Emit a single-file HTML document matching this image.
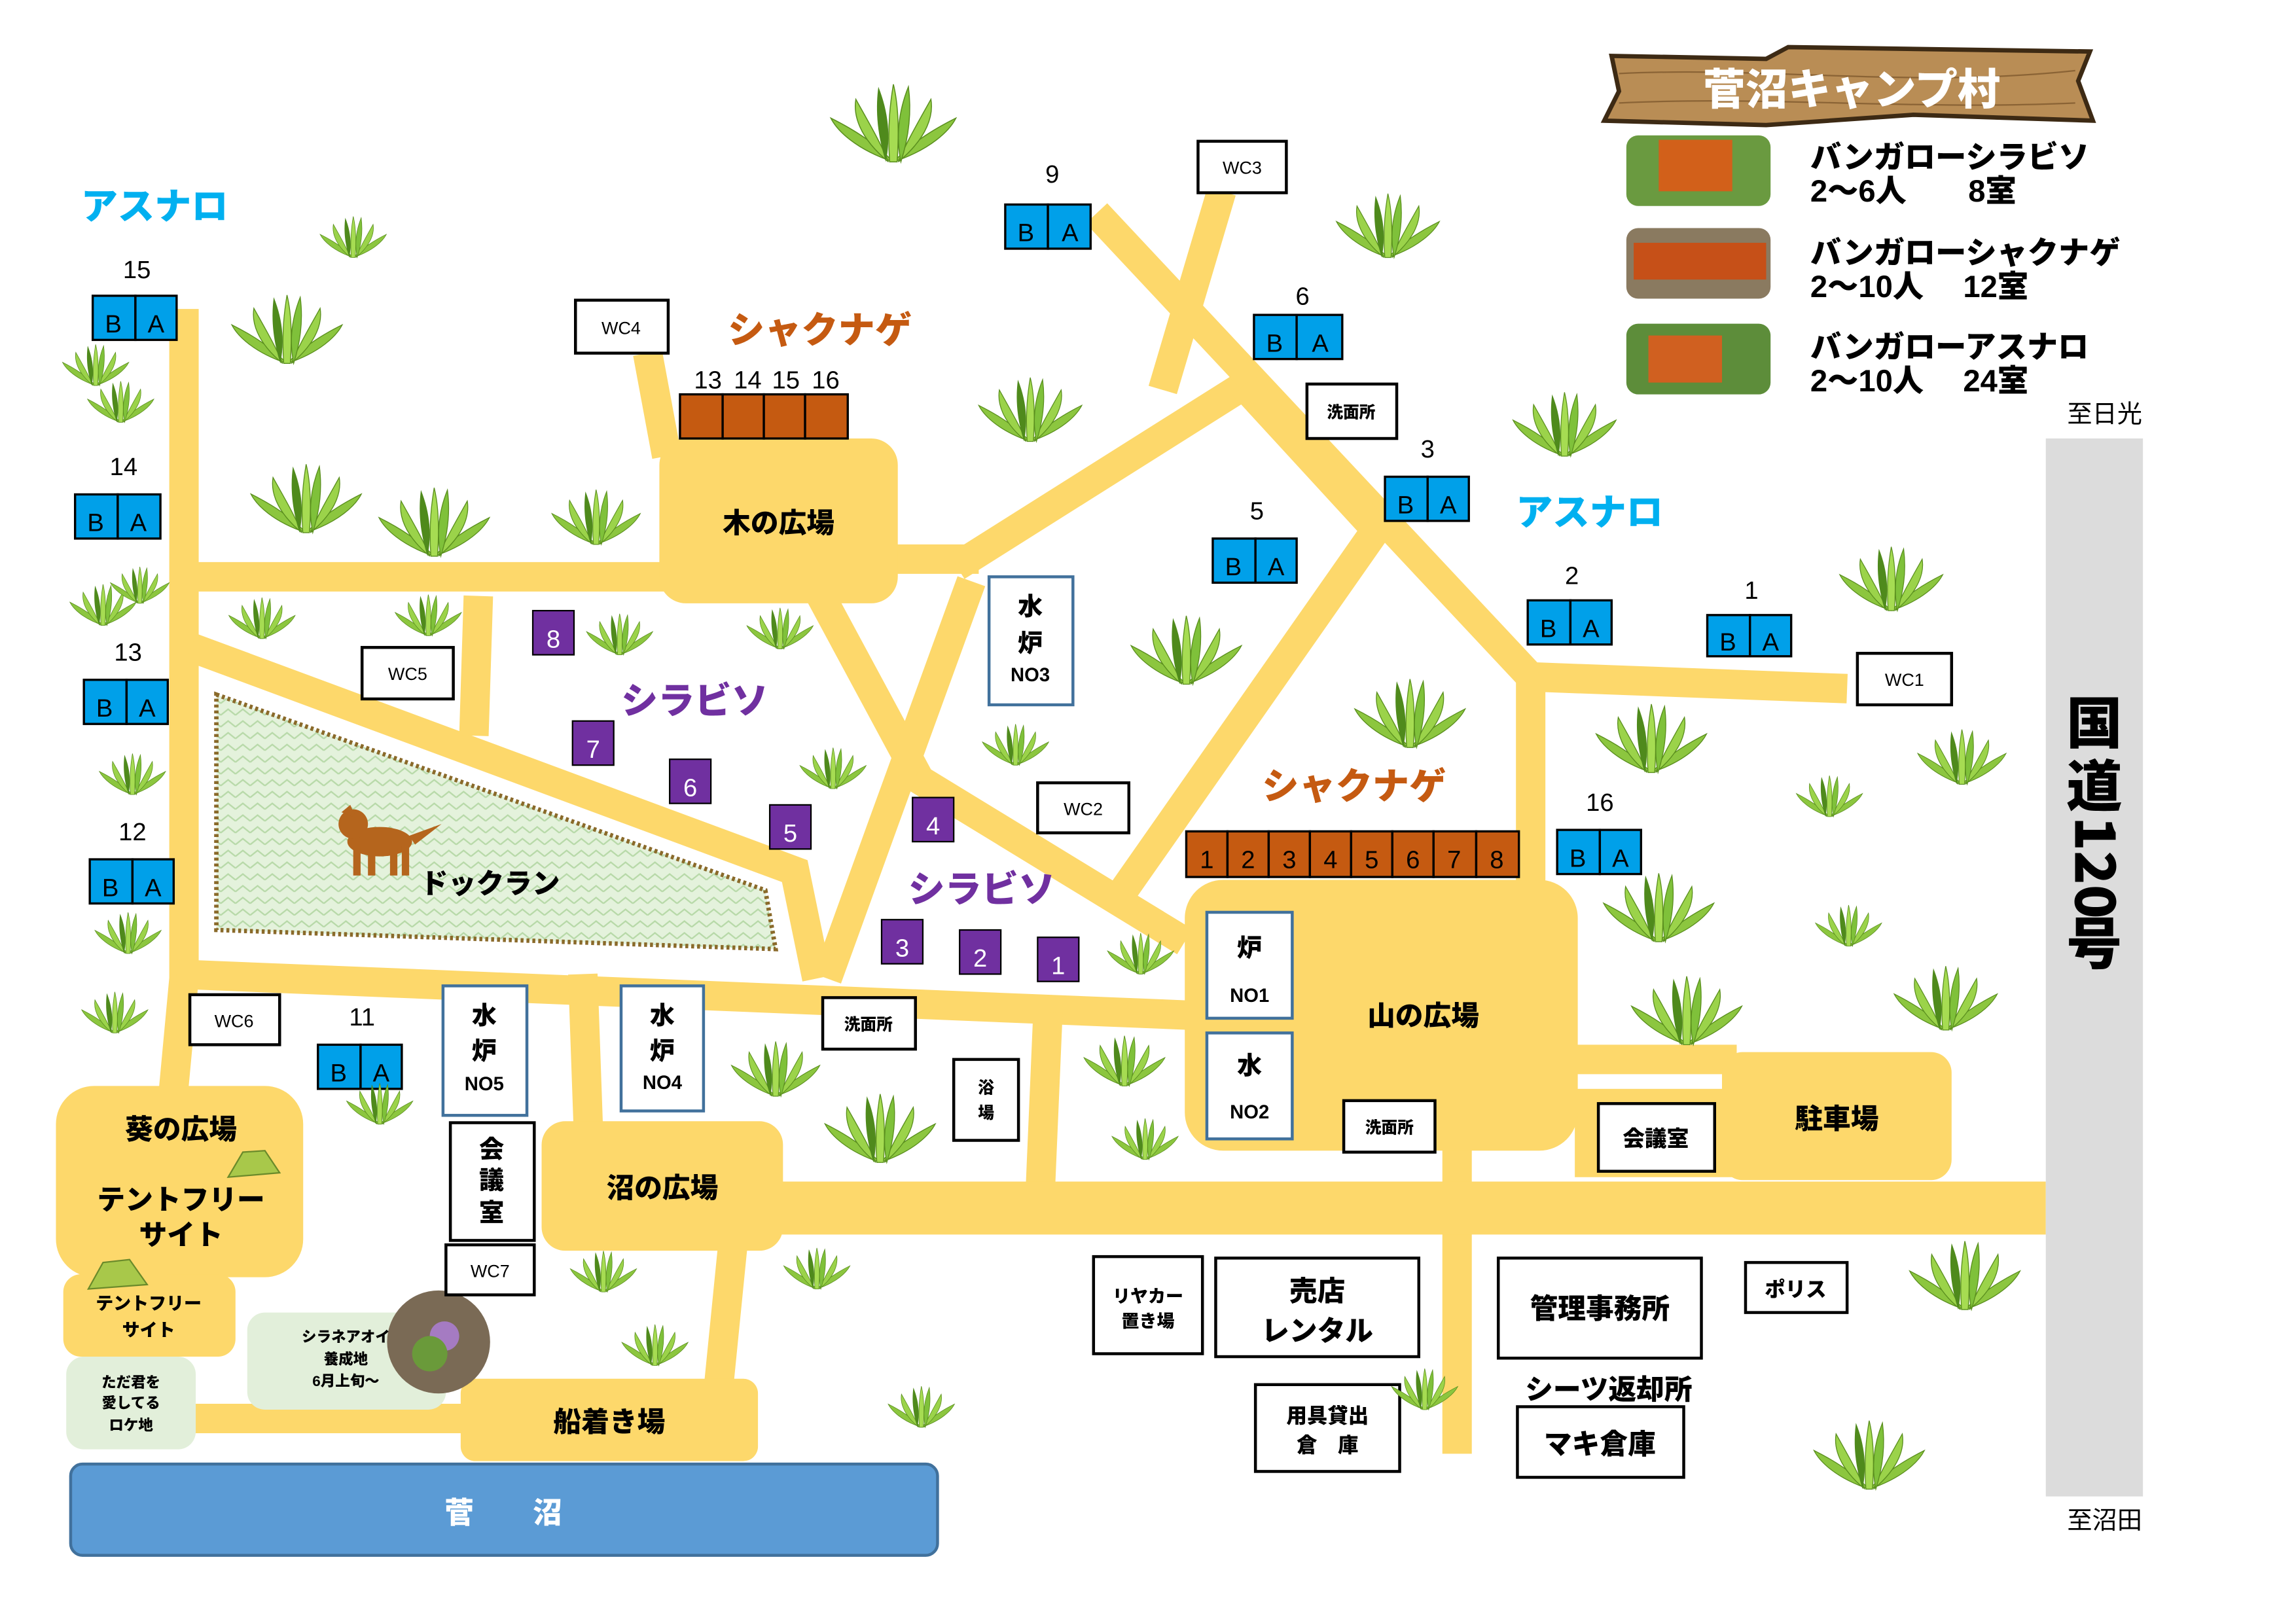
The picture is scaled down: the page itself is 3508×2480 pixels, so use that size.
<!DOCTYPE html>
<html><head><meta charset="utf-8"><style>
html,body{margin:0;padding:0;background:#fff}
svg{display:block}
text{font-family:"Liberation Sans","Noto Sans CJK JP",sans-serif}
.b{font-weight:900;font-family:"Noto Sans CJK JP","Liberation Sans",sans-serif}
</style></head><body>
<svg width="3508" height="2480" viewBox="0 0 1560 1103" preserveAspectRatio="none" xmlns="http://www.w3.org/2000/svg">
<defs>
<g id="gr">
<path d="M0,0 C-30,-10 -45,-25 -50,-35 C-30,-25 -15,-15 0,0Z" fill="#8cc63f" stroke="#5a8f1e" stroke-width="0.8"/>
<path d="M0,0 C30,-10 45,-25 50,-35 C30,-25 15,-15 0,0Z" fill="#8cc63f" stroke="#5a8f1e" stroke-width="0.8"/>
<path d="M-4,0 C-28,-20 -32,-38 -30,-50 C-20,-32 -10,-15 -4,0Z" fill="#9bd34a" stroke="#5a8f1e" stroke-width="0.8"/>
<path d="M4,0 C28,-20 32,-38 30,-50 C20,-32 10,-15 4,0Z" fill="#9bd34a" stroke="#5a8f1e" stroke-width="0.8"/>
<path d="M-6,0 C-14,-25 -14,-45 -12,-60 C-4,-40 -2,-20 -6,0Z" fill="#4f8a1c"/>
<path d="M6,0 C14,-25 14,-45 12,-60 C4,-40 2,-20 6,0Z" fill="#7fc13a" stroke="#5a8f1e" stroke-width="0.8"/>
<path d="M-3,0 C-5,-30 -2,-50 0,-62 C3,-50 5,-30 3,0Z" fill="#a6dc52" stroke="#5a8f1e" stroke-width="0.8"/>
</g>
<pattern id="zz" width="10" height="8" patternUnits="userSpaceOnUse"><rect width="10" height="8" fill="#e4f2dc"/><path d="M0,6 L5,2 L10,6" stroke="#b7d9a8" fill="none" stroke-width="1"/></pattern>
</defs>

<g stroke="#fdd86b" fill="none" stroke-linecap="butt" stroke-width="20">
<path d="M125,210 L125,665 L118,740"/>
<path d="M125,392 L460,392"/>
<path d="M605,380 L665,380"/>
<path d="M650,385 L845,262"/>
<path d="M745,145 L1040,460 L1255,468"/>
<path d="M830,130 L790,265"/>
<path d="M845,262 L935,360 L760,610"/>
<path d="M555,400 L625,530 L805,640"/>
<path d="M660,395 L600,560 L562,665"/>
<path d="M130,440 L540,592 L555,665"/>
<path d="M120,662 L810,690"/>
<path d="M325,405 L322,500"/>
<path d="M440,240 L453,310"/>
<path d="M396,662 L400,775"/>
<path d="M712,688 L707,805"/>
<path d="M990,770 L990,988"/>
<path d="M498,845 L488,945"/>
<path d="M1040,460 L1040,605"/>
<path d="M130,964 L320,964"/>
<path d="M1060,720 L1180,720"/>
</g>
<rect x="520" y="803" width="870" height="36" fill="#fdd86b"/>
<rect x="1070" y="740" width="110" height="60" fill="#fdd86b"/>

<g fill="#fdd86b">
<rect x="448" y="298" width="162" height="112" rx="18"/>
<rect x="805" y="598" width="267" height="184" rx="26"/>
<rect x="38" y="738" width="168" height="130" rx="26"/>
<rect x="43" y="866" width="117" height="56" rx="12"/>
<rect x="368" y="762" width="164" height="88" rx="16"/>
<rect x="313" y="937" width="202" height="56" rx="10"/>
<rect x="1170" y="715" width="156" height="87" rx="14"/>
</g>
<rect x="45" y="922" width="88" height="63" rx="12" fill="#e2efda"/>
<rect x="168" y="892" width="135" height="66" rx="12" fill="#e2efda"/>
<circle cx="298" cy="912" r="35" fill="#7a6a55"/><circle cx="302" cy="908" r="10" fill="#a57bc2"/><circle cx="292" cy="920" r="12" fill="#6a9a3a"/>

<polygon points="147,472 520,605 527,645 147,632" fill="url(#zz)" stroke="#8a6a2a" stroke-width="3" stroke-dasharray="2,2"/>
<g fill="#b5651d">
<ellipse cx="258" cy="572" rx="22" ry="10"/>
<rect x="240" y="575" width="5" height="20"/><rect x="250" y="577" width="5" height="18"/><rect x="265" y="577" width="5" height="18"/><rect x="273" y="575" width="5" height="20"/>
<circle cx="240" cy="560" r="10"/><path d="M232,552 L238,547 L242,556Z"/><path d="M278,568 L300,560 L282,574Z"/>
</g>
<text x="333" y="607" class="b" font-size="19" text-anchor="middle">ドックラン</text>

<rect x="48" y="995" width="589" height="62" rx="8" fill="#5b9bd5" stroke="#41719c" stroke-width="2"/>
<text x="342" y="1035" class="b" font-size="20" fill="#fff" text-anchor="middle">菅　　沼</text>

<rect x="1390" y="298" width="66" height="719" fill="#dcdcdc"/>
<text class="b" font-size="38" text-anchor="middle" x="1423" y="505">国</text>
<text class="b" font-size="38" text-anchor="middle" x="1423" y="548">道</text>
<text class="b" font-size="38" transform="translate(1410,555) rotate(90)">120</text>
<text class="b" font-size="38" text-anchor="middle" x="1423" y="655">号</text>
<text x="1430" y="287" font-size="17" text-anchor="middle">至日光</text>
<text x="1430" y="1039" font-size="17" text-anchor="middle">至沼田</text>

<path d="M1095,38 L1200,40 L1215,32 L1420,35 L1412,55 L1422,82 L1300,78 L1200,85 L1090,82 L1100,62Z" fill="#b98d55" stroke="#3d2a14" stroke-width="3"/>
<g stroke="#8a6335" stroke-width="1" fill="none"><path d="M1100,50 C1200,45 1300,60 1410,48"/><path d="M1100,70 C1200,65 1300,75 1410,70"/></g>
<text x="1258" y="71" class="b" font-size="29" fill="#fff" text-anchor="middle">菅沼キャンプ村</text>
<g>
<rect x="1105" y="92" width="98" height="48" rx="8" fill="#6a9a40"/><rect x="1127" y="95" width="50" height="35" fill="#d2601a"/>
<rect x="1105" y="155" width="98" height="48" rx="8" fill="#8a7a60"/><rect x="1110" y="165" width="90" height="25" fill="#c65018"/>
<rect x="1105" y="220" width="98" height="48" rx="8" fill="#5d8d3a"/><rect x="1120" y="228" width="50" height="32" fill="#d06020"/>
</g>
<g class="b" font-size="21">
<text x="1230" y="114">バンガローシラビソ</text><text x="1230" y="137">2～6人　　8室</text>
<text x="1230" y="179">バンガローシャクナゲ</text><text x="1230" y="202">2～10人　 12室</text>
<text x="1230" y="243">バンガローアスナロ</text><text x="1230" y="266">2～10人　 24室</text>
</g>

<g class="b" font-size="25">
<text x="105" y="149" fill="#00b0f0" text-anchor="middle">アスナロ</text>
<text x="1080" y="357" fill="#00b0f0" text-anchor="middle">アスナロ</text>
<text x="557" y="233" fill="#c55a11" text-anchor="middle">シャクナゲ</text>
<text x="920" y="543" fill="#c55a11" text-anchor="middle">シャクナゲ</text>
<text x="472" y="485" fill="#7030a0" text-anchor="middle">シラビソ</text>
<text x="667" y="613" fill="#7030a0" text-anchor="middle">シラビソ</text>
</g>
<g class="b" font-size="19" text-anchor="middle">
<text x="529" y="362">木の広場</text>
<text x="967" y="697">山の広場</text>
<text x="123" y="774">葵の広場</text>
<text x="123" y="822">テントフリー</text><text x="123" y="846">サイト</text>
<text x="101" y="890" font-size="12">テントフリー</text><text x="101" y="908" font-size="12">サイト</text>
<text x="450" y="814">沼の広場</text>
<text x="414" y="973">船着き場</text>
<text x="1248" y="767">駐車場</text>
<text x="89" y="943" font-size="10">ただ君を</text><text x="89" y="957" font-size="10">愛してる</text><text x="89" y="972" font-size="10">ロケ地</text>
<text x="235" y="912" font-size="10">シラネアオイ</text><text x="235" y="927" font-size="10">養成地</text><text x="235" y="942" font-size="10">6月上旬～</text>
</g>

<g fill="#00a0e9" stroke="#000" stroke-width="1.5">
<rect x="683" y="139" width="29" height="30"/><rect x="712" y="139" width="29" height="30"/>
<rect x="63" y="201" width="29" height="30"/><rect x="92" y="201" width="28" height="30"/>
<rect x="51" y="336" width="29" height="30"/><rect x="80" y="336" width="29" height="30"/>
<rect x="57" y="462" width="29" height="30"/><rect x="86" y="462" width="28" height="30"/>
<rect x="61" y="584" width="29" height="30"/><rect x="90" y="584" width="28" height="30"/>
<rect x="216" y="710" width="29" height="30"/><rect x="245" y="710" width="28" height="30"/>
<rect x="852" y="214" width="29" height="30"/><rect x="881" y="214" width="31" height="30"/>
<rect x="941" y="324" width="29" height="30"/><rect x="970" y="324" width="28" height="30"/>
<rect x="824" y="366" width="29" height="30"/><rect x="853" y="366" width="28" height="30"/>
<rect x="1038" y="408" width="29" height="30"/><rect x="1067" y="408" width="28" height="30"/>
<rect x="1160" y="418" width="29" height="28"/><rect x="1189" y="418" width="28" height="28"/>
<rect x="1058" y="564" width="29" height="30"/><rect x="1087" y="564" width="28" height="30"/>
</g>
<g font-size="17" text-anchor="middle">
<text x="697" y="164">B</text><text x="727" y="164">A</text><text x="715" y="124">9</text>
<text x="77" y="226">B</text><text x="106" y="226">A</text><text x="93" y="189">15</text>
<text x="65" y="361">B</text><text x="94" y="361">A</text><text x="84" y="323">14</text>
<text x="71" y="487">B</text><text x="100" y="487">A</text><text x="87" y="449">13</text>
<text x="75" y="609">B</text><text x="104" y="609">A</text><text x="90" y="571">12</text>
<text x="230" y="735">B</text><text x="259" y="735">A</text><text x="246" y="697">11</text>
<text x="866" y="239">B</text><text x="897" y="239">A</text><text x="885" y="207">6</text>
<text x="955" y="349">B</text><text x="984" y="349">A</text><text x="970" y="311">3</text>
<text x="838" y="391">B</text><text x="867" y="391">A</text><text x="854" y="353">5</text>
<text x="1052" y="433">B</text><text x="1081" y="433">A</text><text x="1068" y="397">2</text>
<text x="1174" y="442">B</text><text x="1203" y="442">A</text><text x="1190" y="407">1</text>
<text x="1072" y="589">B</text><text x="1101" y="589">A</text><text x="1087" y="551">16</text>
</g>

<g fill="#c55a11" stroke="#000" stroke-width="1.5">
<rect x="462" y="268" width="29" height="30"/><rect x="491" y="268" width="28" height="30"/><rect x="519" y="268" width="28" height="30"/><rect x="547" y="268" width="29" height="30"/>
<rect x="806" y="565" width="28" height="31"/><rect x="834" y="565" width="28" height="31"/><rect x="862" y="565" width="28" height="31"/><rect x="890" y="565" width="28" height="31"/><rect x="918" y="565" width="28" height="31"/><rect x="946" y="565" width="28" height="31"/><rect x="974" y="565" width="29" height="31"/><rect x="1003" y="565" width="29" height="31"/>
</g>
<g font-size="17" text-anchor="middle">
<text x="481" y="264">13</text><text x="508" y="264">14</text><text x="534" y="264">15</text><text x="561" y="264">16</text>
<text x="820" y="590">1</text><text x="848" y="590">2</text><text x="876" y="590">3</text><text x="904" y="590">4</text><text x="932" y="590">5</text><text x="960" y="590">6</text><text x="988" y="590">7</text><text x="1017" y="590">8</text>
</g>

<g fill="#7030a0" stroke="#000" stroke-width="1">
<rect x="362" y="415" width="28" height="30"/><rect x="389" y="490" width="28" height="30"/><rect x="455" y="516" width="28" height="30"/><rect x="523" y="547" width="28" height="30"/><rect x="620" y="542" width="28" height="30"/><rect x="599" y="625" width="28" height="30"/><rect x="652" y="632" width="28" height="30"/><rect x="705" y="637" width="28" height="30"/>
</g>
<g font-size="17" fill="#fff" text-anchor="middle">
<text x="376" y="440">8</text><text x="403" y="515">7</text><text x="469" y="541">6</text><text x="537" y="572">5</text><text x="634" y="567">4</text><text x="613" y="650">3</text><text x="666" y="657">2</text><text x="719" y="662">1</text>
</g>

<g fill="#fff" stroke="#000" stroke-width="2">
<rect x="814" y="96" width="60" height="35"/><rect x="391" y="204" width="63" height="36"/><rect x="246" y="440" width="62" height="35"/><rect x="129" y="676" width="61" height="34"/><rect x="303" y="846" width="60" height="34"/><rect x="705" y="532" width="62" height="34"/><rect x="1262" y="444" width="64" height="35"/>
<rect x="888" y="261" width="61" height="37"/><rect x="559" y="678" width="63" height="35"/><rect x="913" y="748" width="62" height="35"/><rect x="648" y="720" width="44" height="55"/>
<rect x="306" y="763" width="57" height="80"/><rect x="1086" y="750" width="79" height="46"/>
<rect x="743" y="854" width="74" height="66"/><rect x="826" y="855" width="138" height="67"/><rect x="853" y="941" width="98" height="59"/><rect x="1018" y="855" width="138" height="68"/><rect x="1031" y="956" width="113" height="48"/><rect x="1186" y="858" width="69" height="34"/>
</g>
<g fill="#fff" stroke="#41719c" stroke-width="2">
<rect x="672" y="392" width="57" height="87"/><rect x="301" y="670" width="57" height="88"/><rect x="422" y="670" width="56" height="85"/><rect x="820" y="620" width="58" height="72"/><rect x="820" y="702" width="58" height="72"/>
</g>
<g font-size="12" text-anchor="middle">
<text x="844" y="118">WC3</text><text x="422" y="227">WC4</text><text x="277" y="462">WC5</text><text x="159" y="698">WC6</text><text x="333" y="868">WC7</text><text x="736" y="554">WC2</text><text x="1294" y="466">WC1</text>
</g>
<g class="b" font-size="11" text-anchor="middle">
<text x="918" y="284">洗面所</text><text x="590" y="700">洗面所</text><text x="944" y="770">洗面所</text>
<text x="670" y="743">浴</text><text x="670" y="760">場</text>
</g>
<g class="b" font-size="17" text-anchor="middle">
<text x="700" y="418">水</text><text x="700" y="443">炉</text><text x="700" y="463" font-size="13">NO3</text>
<text x="329" y="696">水</text><text x="329" y="720">炉</text><text x="329" y="741" font-size="13">NO5</text>
<text x="450" y="696">水</text><text x="450" y="720">炉</text><text x="450" y="740" font-size="13">NO4</text>
<text x="849" y="650">炉</text><text x="849" y="681" font-size="13">NO1</text>
<text x="849" y="730">水</text><text x="849" y="760" font-size="13">NO2</text>
<text x="334" y="787">会</text><text x="334" y="808">議</text><text x="334" y="830">室</text>
<text x="1125" y="779" font-size="15">会議室</text>
<text x="780" y="885" font-size="12">リヤカー</text><text x="780" y="902" font-size="12">置き場</text>
<text x="895" y="884" font-size="19">売店</text><text x="895" y="911" font-size="19">レンタル</text>
<text x="902" y="967" font-size="14">用具貸出</text><text x="902" y="987" font-size="14">倉　庫</text>
<text x="1087" y="896" font-size="19">管理事務所</text>
<text x="1093" y="951" font-size="19">シーツ返却所</text>
<text x="1087" y="988" font-size="19">マキ倉庫</text>
<text x="1220" y="881" font-size="14">ポリス</text>
</g>

<path d="M155,800 L165,783 L180,782 L190,797 Z" fill="#a8c84a" stroke="#6a8a2a"/>
<path d="M60,876 L70,858 L88,856 L100,873 Z" fill="#a8c84a" stroke="#6a8a2a"/>

<g>
<use href="#gr" transform="translate(607,110) scale(0.85)"/>
<use href="#gr" transform="translate(240,175) scale(0.45)"/>
<use href="#gr" transform="translate(195,247) scale(0.75)"/>
<use href="#gr" transform="translate(65,262) scale(0.45)"/>
<use href="#gr" transform="translate(82,287) scale(0.45)"/>
<use href="#gr" transform="translate(943,175) scale(0.7)"/>
<use href="#gr" transform="translate(700,300) scale(0.7)"/>
<use href="#gr" transform="translate(1063,310) scale(0.7)"/>
<use href="#gr" transform="translate(208,362) scale(0.75)"/>
<use href="#gr" transform="translate(295,378) scale(0.75)"/>
<use href="#gr" transform="translate(405,370) scale(0.6)"/>
<use href="#gr" transform="translate(70,425) scale(0.45)"/>
<use href="#gr" transform="translate(95,410) scale(0.4)"/>
<use href="#gr" transform="translate(178,434) scale(0.45)"/>
<use href="#gr" transform="translate(291,432) scale(0.45)"/>
<use href="#gr" transform="translate(421,445) scale(0.45)"/>
<use href="#gr" transform="translate(530,441) scale(0.45)"/>
<use href="#gr" transform="translate(806,465) scale(0.75)"/>
<use href="#gr" transform="translate(1285,415) scale(0.7)"/>
<use href="#gr" transform="translate(958,508) scale(0.75)"/>
<use href="#gr" transform="translate(1122,525) scale(0.75)"/>
<use href="#gr" transform="translate(1333,533) scale(0.6)"/>
<use href="#gr" transform="translate(1243,555) scale(0.45)"/>
<use href="#gr" transform="translate(566,536) scale(0.45)"/>
<use href="#gr" transform="translate(690,520) scale(0.45)"/>
<use href="#gr" transform="translate(90,540) scale(0.45)"/>
<use href="#gr" transform="translate(1127,640) scale(0.75)"/>
<use href="#gr" transform="translate(1256,643) scale(0.45)"/>
<use href="#gr" transform="translate(775,662) scale(0.45)"/>
<use href="#gr" transform="translate(87,648) scale(0.45)"/>
<use href="#gr" transform="translate(1322,700) scale(0.7)"/>
<use href="#gr" transform="translate(1146,710) scale(0.75)"/>
<use href="#gr" transform="translate(78,702) scale(0.45)"/>
<use href="#gr" transform="translate(527,745) scale(0.6)"/>
<use href="#gr" transform="translate(764,738) scale(0.55)"/>
<use href="#gr" transform="translate(598,790) scale(0.75)"/>
<use href="#gr" transform="translate(778,788) scale(0.45)"/>
<use href="#gr" transform="translate(258,764) scale(0.45)"/>
<use href="#gr" transform="translate(1335,890) scale(0.75)"/>
<use href="#gr" transform="translate(410,878) scale(0.45)"/>
<use href="#gr" transform="translate(555,876) scale(0.45)"/>
<use href="#gr" transform="translate(445,928) scale(0.45)"/>
<use href="#gr" transform="translate(626,970) scale(0.45)"/>
<use href="#gr" transform="translate(968,958) scale(0.45)"/>
<use href="#gr" transform="translate(1270,1012) scale(0.75)"/>
</g>
</svg>
</body></html>
